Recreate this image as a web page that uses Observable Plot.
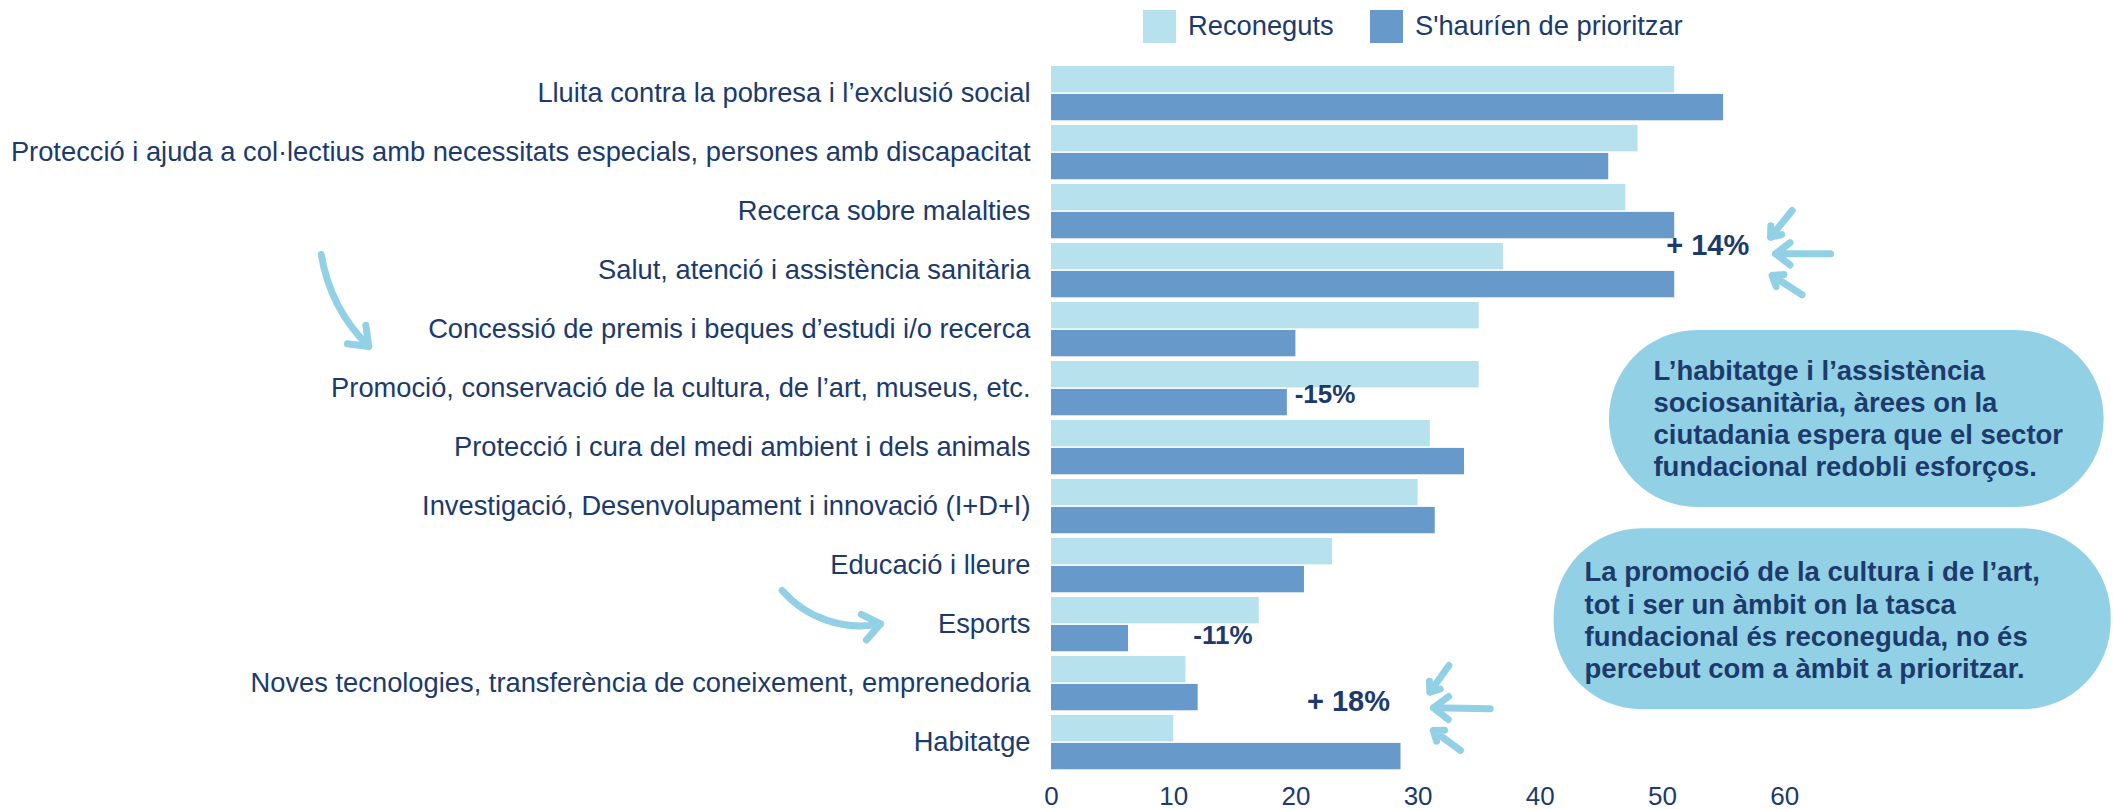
<!DOCTYPE html>
<html>
<head>
<meta charset="utf-8">
<script src="https://cdn.jsdelivr.net/npm/d3@7"></script>
<script src="https://cdn.jsdelivr.net/npm/@observablehq/plot@0.6"></script>
<style>
  html, body { margin: 0; padding: 0; background: #ffffff; }
  body { width: 2113px; height: 809px; overflow: hidden; font-family: "Liberation Sans", Arial, sans-serif; }
  #legend { position: relative; height: 50px; width: 2113px; }
  .sw { position: absolute; top: 10px; width: 33px; height: 33px; }
  .lt { position: absolute; top: 8px; font-size: 27.3px; line-height: 36px; color: #1c3a6b; white-space: nowrap; }
  #chart svg { display: block; }
</style>
</head>
<body>
<div id="legend"></div>
<div id="chart"></div>
<script>
// ---- data ----
const categories = [
  "Lluita contra la pobresa i l’exclusió social",
  "Protecció i ajuda a col·lectius amb necessitats especials, persones amb discapacitat",
  "Recerca sobre malalties",
  "Salut, atenció i assistència sanitària",
  "Concessió de premis i beques d’estudi i/o recerca",
  "Promoció, conservació de la cultura, de l’art, museus, etc.",
  "Protecció i cura del medi ambient i dels animals",
  "Investigació, Desenvolupament i innovació (I+D+I)",
  "Educació i lleure",
  "Esports",
  "Noves tecnologies, transferència de coneixement, emprenedoria",
  "Habitatge"
];
const reconeguts = [51, 48, 47, 37, 35, 35, 31, 30, 23, 17, 11, 10];
const prioritzar = [55, 45.6, 51, 51, 20, 19.3, 33.8, 31.4, 20.7, 6.3, 12, 28.6];
const seriesNames = ["Reconeguts", "S'hauríen de prioritzar"];
const xTicks = [0, 10, 20, 30, 40, 50, 60];

// annotation content
const deltaLabels = ["+ 14%", "-15%", "-11%", "+ 18%"];
const bubbleTexts = [
  "L’habitatge i l’assistència\nsociosanitària, àrees on la\nciutadania espera que el sector\nfundacional redobli esforços.",
  "La promoció de la cultura i de l’art,\ntot i ser un àmbit on la tasca\nfundacional és reconeguda, no és\npercebut com a àmbit a prioritzar."
];

// ---- styling ----
const navy = "#1c3a6b";
const lightBlue = "#b7e1ec";
const midBlue = "#6899cb";
const accent = "#92d1e5";
const FONT = "'Liberation Sans', Arial, sans-serif";

// legend
const legend = document.getElementById("legend");
const swColors = [lightBlue, midBlue];
const swLeft = [1143, 1370];
seriesNames.forEach((name, k) => {
  const s = document.createElement("div");
  s.className = "sw"; s.style.left = swLeft[k] + "px"; s.style.background = swColors[k];
  legend.appendChild(s);
  const t = document.createElement("div");
  t.className = "lt"; t.style.left = (swLeft[k] + 45) + "px"; t.textContent = name;
  legend.appendChild(t);
});

// tables built from arrays
const rows = categories.map((c, i) => ({i, category: c, rec: reconeguts[i], pri: prioritzar[i]}));
const half = 0.46, gap = 0.013;

// annotation placement (data units)
const deltas = [
  {x: 50.3, y: 2.574, t: deltaLabels[0], size: 29},
  {x: 19.9, y: 5.10, t: deltaLabels[1], size: 26},
  {x: 11.6, y: 9.18, t: deltaLabels[2], size: 26},
  {x: 20.9, y: 10.31, t: deltaLabels[3], size: 29}
];
const bubbles = [
  {x1: 45.66, x2: 86.14, y1: 4.014, y2: 7.014, tx: 49.26, ty: 5.49, t: bubbleTexts[0]},
  {x1: 41.13, x2: 86.72, y1: 7.376, y2: 10.443, tx: 43.62, ty: 8.91, t: bubbleTexts[1]}
];
const straightArrows = [
  {x1: 60.61, y1: 1.981, x2: 58.84, y2: 2.433},
  {x1: 63.75, y1: 2.714, x2: 59.25, y2: 2.714},
  {x1: 61.42, y1: 3.409, x2: 58.97, y2: 3.082},
  {x1: 32.52, y1: 9.693, x2: 30.96, y2: 10.145},
  {x1: 35.9, y1: 10.426, x2: 31.25, y2: 10.409},
  {x1: 33.46, y1: 11.13, x2: 31.25, y2: 10.795}
];
const curveA = [{x1: -59.76, y1: 2.726, x2: -55.87, y2: 4.286}];
const curveB = [{x1: -22.04, y1: 8.421, x2: -13.99, y2: 8.986}];

const arrowStyle = {stroke: accent, strokeWidth: 7, strokeLinecap: "round", strokeLinejoin: "round", headAngle: 75};

const chart = Plot.plot({
  width: 2113,
  height: 759,
  marginLeft: 1051,
  marginRight: 0,
  marginTop: 13.65,
  marginBottom: 37.35,
  style: {fontFamily: FONT, color: navy, background: "transparent", overflow: "visible"},
  x: {domain: [0, 1062 / 12.22]},
  y: {domain: [11.5, -0.5]},
  marks: [
    Plot.rect(bubbles, {x1: "x1", x2: "x2", y1: "y1", y2: "y2", fill: accent, rx: 88}),
    Plot.rect(rows, {x1: 0, x2: "rec", y1: d => d.i - half, y2: d => d.i - gap, fill: lightBlue}),
    Plot.rect(rows, {x1: 0, x2: "pri", y1: d => d.i + gap, y2: d => d.i + half, fill: midBlue}),
    Plot.axisY({ticks: d3.range(categories.length), tickFormat: i => categories[i], tickSize: 0, tickPadding: 21, fontSize: 27.3, label: null, fill: navy}),
    Plot.axisX({ticks: xTicks, tickSize: 0, tickPadding: 14, fontSize: 26, label: null, fill: navy}),
    Plot.text(deltas.filter(d => d.size === 29), {x: "x", y: "y", text: "t", textAnchor: "start", lineAnchor: "middle", fontSize: 29, fontWeight: "bold", fill: navy}),
    Plot.text(deltas.filter(d => d.size === 26), {x: "x", y: "y", text: "t", textAnchor: "start", lineAnchor: "middle", fontSize: 26, fontWeight: "bold", fill: navy}),
    Plot.text(bubbles, {x: "tx", y: "ty", text: "t", textAnchor: "start", lineAnchor: "middle", fontSize: 27.5, lineHeight: 1.17, fontWeight: "bold", fill: navy}),
    Plot.arrow(straightArrows, {x1: "x1", y1: "y1", x2: "x2", y2: "y2", headLength: 4.3, ...arrowStyle}),
    Plot.arrow(curveA, {x1: "x1", y1: "y1", x2: "x2", y2: "y2", bend: -18, headLength: 4.6, ...arrowStyle}),
    Plot.arrow(curveB, {x1: "x1", y1: "y1", x2: "x2", y2: "y2", bend: -30, headLength: 4.6, ...arrowStyle})
  ]
});
document.getElementById("chart").appendChild(chart);
</script>
</body>
</html>
